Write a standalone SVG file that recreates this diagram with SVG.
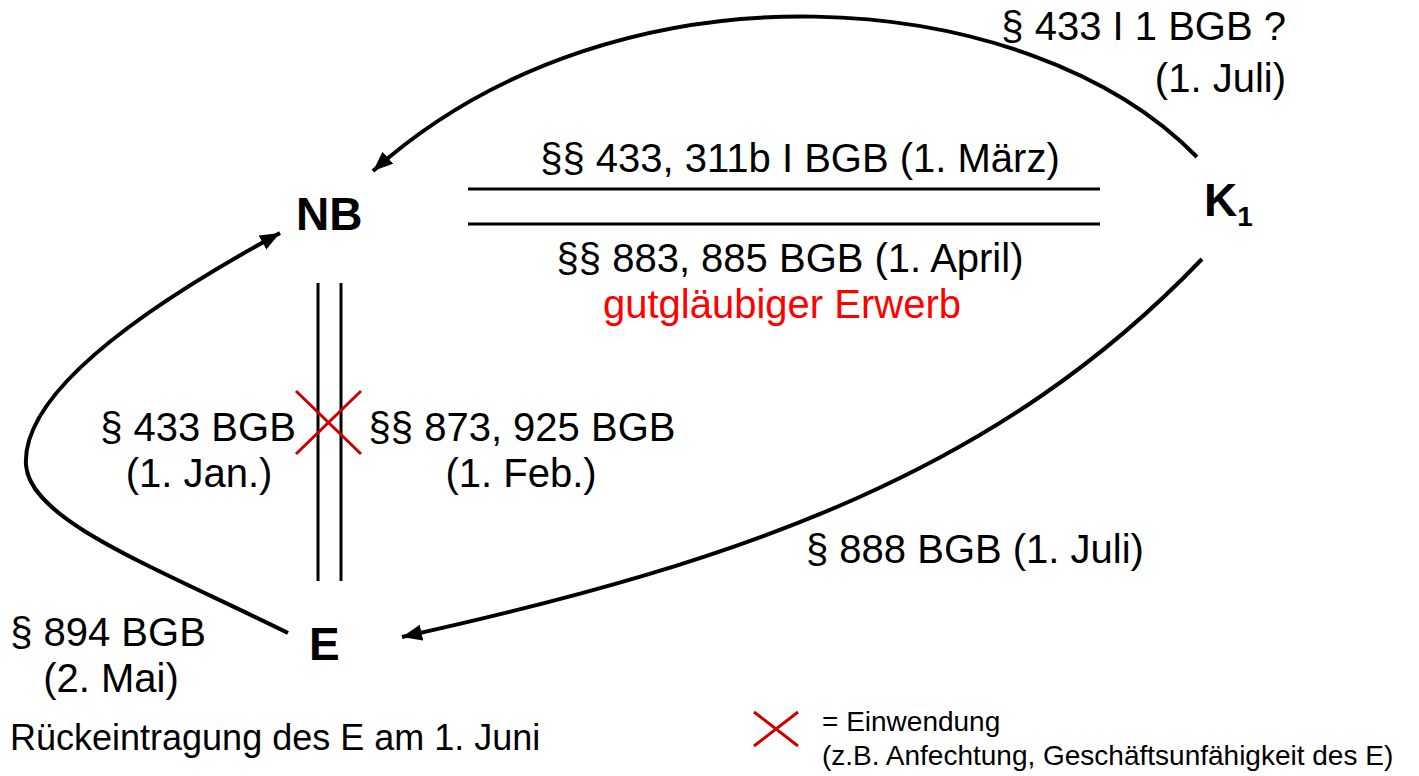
<svg xmlns="http://www.w3.org/2000/svg" width="1419" height="776" viewBox="0 0 1419 776">
<style>
.t{font-family:"Liberation Sans",Arial,sans-serif;font-size:40px;fill:#000}
.m{font-size:36px}
.n{font-family:"Liberation Sans",Arial,sans-serif;font-size:46px;font-weight:bold;fill:#000}
.sub{font-size:28px}
.s{font-family:"Liberation Sans",Arial,sans-serif;font-size:28px;fill:#000}
.c{text-anchor:middle}
.red{fill:#ff0000}
.edge{fill:none;stroke:#000;stroke-width:4}
.bar{stroke:#000;stroke-width:3}
.x{stroke:#cc0000;stroke-width:3}
</style>
<defs>
<marker id="arr" markerUnits="userSpaceOnUse" markerWidth="24" markerHeight="20" refX="20" refY="8" orient="auto">
<path d="M0,0 L20,8 L0,16 Z" fill="#000"/>
</marker>
</defs>
<g id="connectors">
<path class="edge" d="M1197,157 C1030,-15 620,-50 373,171" marker-end="url(#arr)"/>
<path class="edge" d="M288,633 C150,565 30,520 26,465 C22,400 120,320 280,233" marker-end="url(#arr)"/>
<path class="edge" d="M1202,259 C1000,470 750,560 402,637" marker-end="url(#arr)"/>
<line class="bar" x1="468" y1="189" x2="1100" y2="189"/>
<line class="bar" x1="468" y1="224" x2="1100" y2="224"/>
<line class="bar" x1="318" y1="283" x2="318" y2="581"/>
<line class="bar" x1="341" y1="283" x2="341" y2="581"/>
<line class="x" x1="296" y1="391" x2="361" y2="454"/>
<line class="x" x1="296" y1="454" x2="361" y2="391"/>
</g>
<g id="node-NB"><text class="n" x="296" y="230">NB</text></g>
<g id="node-K1"><text class="n" x="1204" y="216">K<tspan class="sub" dy="10">1</tspan></text></g>
<g id="node-E"><text class="n" x="309" y="660">E</text></g>
<g id="labels">
<text class="t" x="1286" y="40" text-anchor="end">§ 433 I 1 BGB ?</text>
<text class="t" x="1286" y="92" text-anchor="end">(1. Juli)</text>
<text class="t c" x="800" y="172">§§ 433, 311b I BGB (1. März)</text>
<text class="t c" x="790" y="272">§§ 883, 885 BGB (1. April)</text>
<text class="t c red" x="782" y="318">gutgläubiger Erwerb</text>
<text class="t c" x="198" y="441">§ 433 BGB</text>
<text class="t c" x="199" y="487">(1. Jan.)</text>
<text class="t c" x="522" y="441">§§ 873, 925 BGB</text>
<text class="t c" x="521" y="487">(1. Feb.)</text>
<text class="t c" x="108" y="646">§ 894 BGB</text>
<text class="t c" x="111" y="692">(2. Mai)</text>
<text class="t m" x="10" y="750">Rückeintragung des E am 1. Juni</text>
<text class="t" x="806" y="563">§ 888 BGB (1. Juli)</text>
</g>
<g id="legend">
<line class="x" x1="754" y1="712" x2="798" y2="746"/>
<line class="x" x1="754" y1="746" x2="798" y2="712"/>
<text class="s" x="822" y="731">= Einwendung</text>
<text class="s" x="822" y="765">(z.B. Anfechtung, Geschäftsunfähigkeit des E)</text>
</g>
</svg>
